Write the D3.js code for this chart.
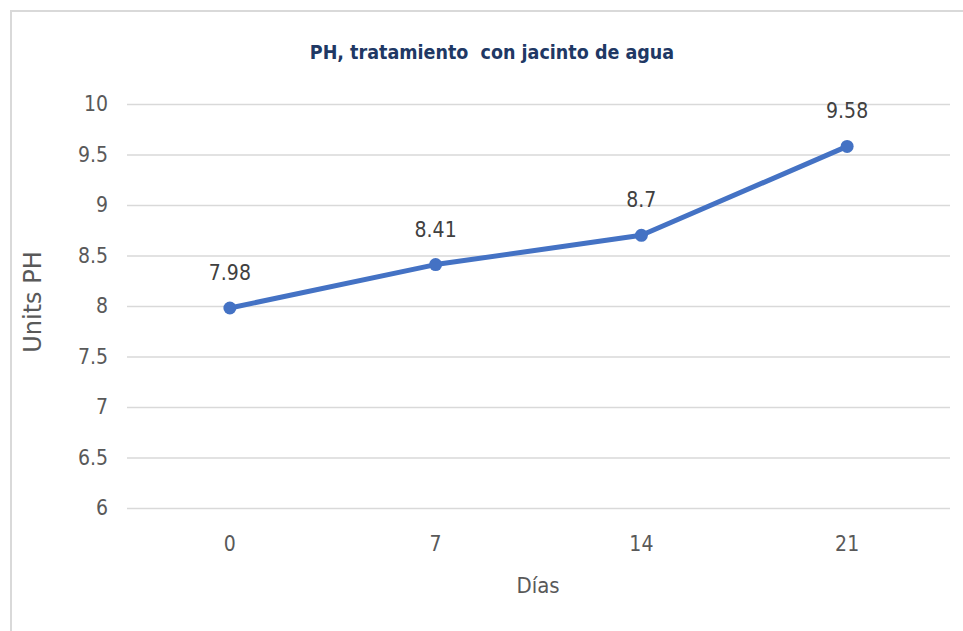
<!DOCTYPE html>
<html>
<head>
<meta charset="utf-8">
<script src="https://cdn.jsdelivr.net/npm/d3@7"></script>
<style>
  body { margin: 0; background: #fff; }
  svg text { font-family: "Liberation Sans Narrow", "DejaVu Sans Condensed", sans-serif; }
</style>
</head>
<body>
<script>
// data
var dias = ["0", "7", "14", "21"];
var phValues = [7.98, 8.41, 8.7, 9.58];
var yTicks = [6, 6.5, 7, 7.5, 8, 8.5, 9, 9.5, 10];

var svgWidth = 963;
var svgHeight = 631;

var plot = { left: 127, right: 950, top: 104, bottom: 508 };

var svg = d3.select("body")
  .append("svg")
  .attr("width", svgWidth)
  .attr("height", svgHeight);

// chart frame (runs off the right/bottom edge in the original)
svg.append("rect")
  .attr("x", 11)
  .attr("y", 11)
  .attr("width", 980)
  .attr("height", 650)
  .attr("fill", "none")
  .attr("stroke", "#d9d9d9")
  .attr("stroke-width", 2);

var x = d3.scaleBand()
  .domain(dias)
  .range([plot.left, plot.right]);

var y = d3.scaleLinear()
  .domain([6, 10])
  .range([plot.bottom, plot.top]);

// gridlines + y labels
var yAxis = d3.axisLeft(y)
  .tickValues(yTicks)
  .tickSize(-(plot.right - plot.left))
  .tickPadding(19)
  .tickFormat(d3.format("~g"));

var gy = svg.append("g")
  .attr("transform", `translate(${plot.left},0)`)
  .call(yAxis);
gy.select(".domain").remove();
gy.selectAll(".tick line").attr("stroke", "#d9d9d9").attr("stroke-width", 1.5);
gy.selectAll(".tick text")
  .attr("fill", "#595959")
  .style("font-size", "21px");

// x labels
var xAxis = d3.axisBottom(x).tickSize(0).tickPadding(28);
var gx = svg.append("g")
  .attr("transform", `translate(0,${plot.bottom})`)
  .call(xAxis);
gx.select(".domain").remove();
gx.selectAll(".tick text")
  .attr("fill", "#595959")
  .style("font-size", "21px");

// line
var line = d3.line()
  .x((d, i) => x(dias[i]) + x.bandwidth() / 2)
  .y(d => y(d));

svg.append("path")
  .datum(phValues)
  .attr("d", line)
  .attr("fill", "none")
  .attr("stroke", "#4472c4")
  .attr("stroke-width", 5)
  .attr("stroke-linejoin", "round");

svg.selectAll("circle.pt")
  .data(phValues)
  .enter()
  .append("circle")
  .attr("class", "pt")
  .attr("cx", (d, i) => x(dias[i]) + x.bandwidth() / 2)
  .attr("cy", d => y(d))
  .attr("r", 6.5)
  .attr("fill", "#4472c4");

// data labels
svg.selectAll("text.lbl")
  .data(phValues)
  .enter()
  .append("text")
  .attr("class", "lbl")
  .attr("x", (d, i) => x(dias[i]) + x.bandwidth() / 2)
  .attr("y", d => y(d) - 28)
  .attr("text-anchor", "middle")
  .attr("fill", "#404040")
  .style("font-size", "21px")
  .text(d => d);

// title
svg.append("text")
  .attr("x", 492)
  .attr("y", 59)
  .attr("text-anchor", "middle")
  .attr("fill", "#203864")
  .style("font-size", "19.5px")
  .style("font-weight", "bold")
  .attr("xml:space", "preserve")
  .text("PH, tratamiento  con jacinto de agua");

// axis titles
svg.append("text")
  .attr("transform", "translate(41,302) rotate(-90)")
  .attr("text-anchor", "middle")
  .attr("fill", "#595959")
  .style("font-family", "'DejaVu Sans', sans-serif")
  .style("font-size", "24px")
  .text("Units PH");

svg.append("text")
  .attr("x", 538)
  .attr("y", 593)
  .attr("text-anchor", "middle")
  .attr("fill", "#595959")
  .style("font-size", "22px")
  .text("Días");
</script>
</body>
</html>
